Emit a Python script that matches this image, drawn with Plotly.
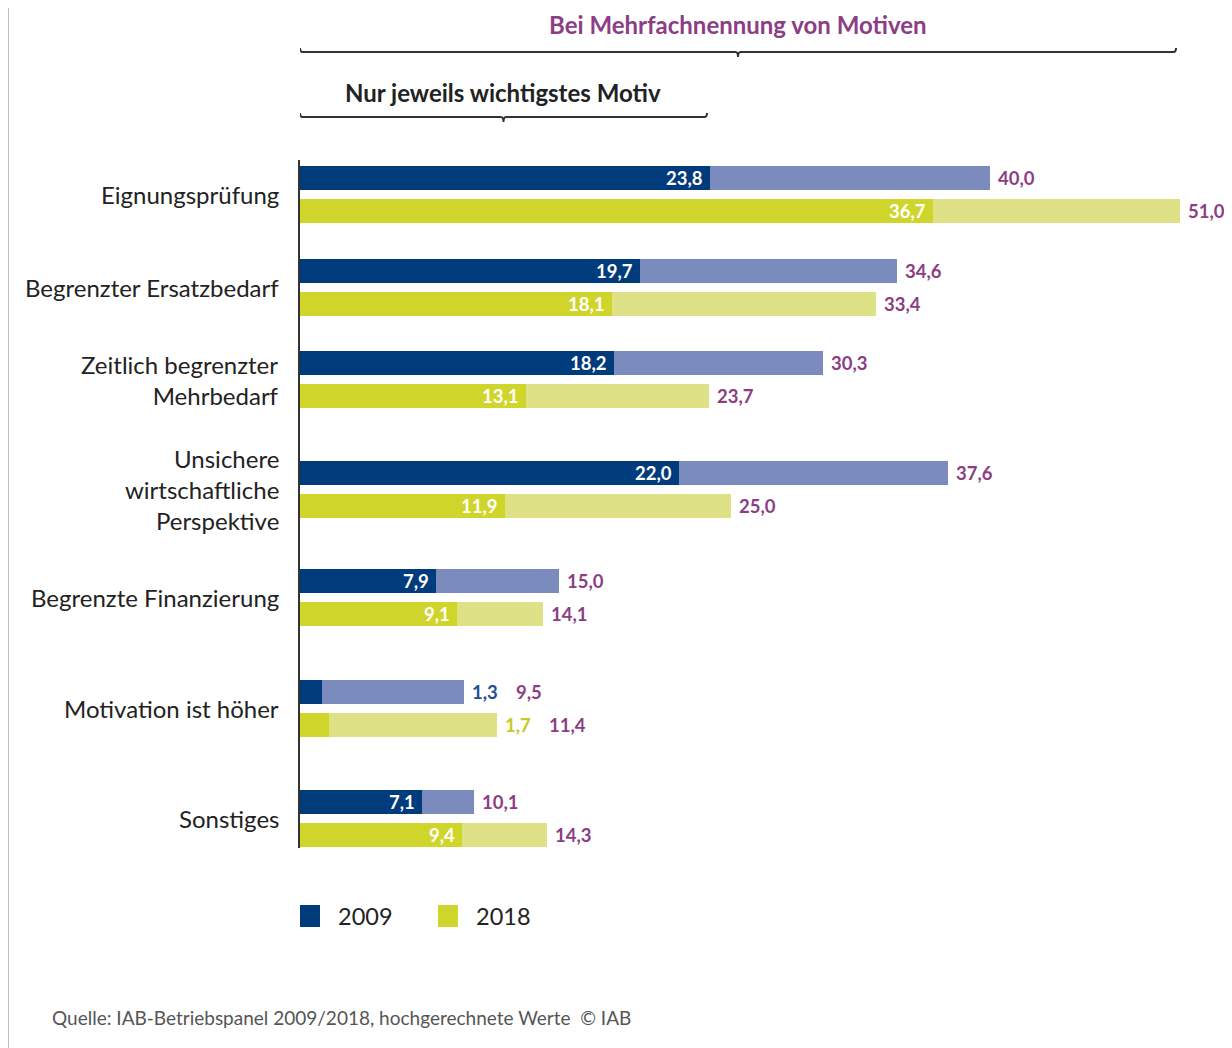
import plotly.graph_objects as go

# ---- data ----
categories = [
    "Eignungsprüfung",
    "Begrenzter Ersatzbedarf",
    "Zeitlich begrenzter<br>Mehrbedarf",
    "Unsichere<br>wirtschaftliche<br>Perspektive",
    "Begrenzte Finanzierung",
    "Motivation ist höher",
    "Sonstiges",
]
main_2009 = [23.8, 19.7, 18.2, 22.0, 7.9, 1.3, 7.1]      # nur wichtigstes Motiv
total_2009 = [40.0, 34.6, 30.3, 37.6, 15.0, 9.5, 10.1]   # Mehrfachnennung
main_2018 = [36.7, 18.1, 13.1, 11.9, 9.1, 1.7, 9.4]
total_2018 = [51.0, 33.4, 23.7, 25.0, 14.1, 11.4, 14.3]
years = ["2009", "2018"]

title_multi = "Bei Mehrfachnennung von Motiven"
title_main = "Nur jeweils wichtigstes Motiv"
source = "Quelle: IAB-Betriebspanel 2009/2018, hochgerechnete Werte  © IAB"

# ---- layout / style (page pixel coordinates) ----
W, H = 1232, 1048
BODY = 8                      # default page margin of the html body
PX_PER_UNIT = 17.25
X_MAX = 53
PLOT_L, PLOT_TOP, PLOT_BOT = 300, 160, 848
PLOT_R = PLOT_L + X_MAX * PX_PER_UNIT
M_L = PLOT_L - BODY
M_T = PLOT_TOP - BODY
M_R = W - (PLOT_R - BODY)
M_B = H - (PLOT_BOT - BODY)

# vertical positions of groups (pixel-like units on the y axis)
group_centers = [194.5, 287.5, 379.5, 489.5, 597.5, 708.5, 818.5]
bar_off = 16.5
bar_w = 24

FONT = "Lato"
C_DARK = {"2009": "#003b7b", "2018": "#d0d52b"}
C_LIGHT = {"2009": "#7c8bbd", "2018": "#dee186"}
C_SMALL = {"2009": "#1f4f96", "2018": "#c5cb24"}
C_PURPLE = "#8c3d84"
C_TEXT = "#222222"
VAL_SIZE = 18.5

def fmt(v):
    return f"{v:.1f}".replace(".", ",")

plot_h = PLOT_BOT - PLOT_TOP
plot_w = PLOT_R - PLOT_L
def ppaper(py):
    return (PLOT_BOT - py) / plot_h
def pxpaper(px):
    return (px - PLOT_L) / plot_w

fig = go.Figure()
annotations = []

series = {
    "2009": (main_2009, total_2009, -bar_off),
    "2018": (main_2018, total_2018, bar_off),
}
for yr, (mains, totals, off) in series.items():
    ys = [c + off for c in group_centers]
    fig.add_trace(go.Bar(
        y=ys, x=totals, base=0, orientation="h", width=bar_w,
        marker=dict(color=C_LIGHT[yr], line=dict(width=0)),
        showlegend=False, hoverinfo="x", name=yr + " Mehrfachnennung",
    ))
    fig.add_trace(go.Bar(
        y=ys, x=mains, base=0, orientation="h", width=bar_w,
        marker=dict(color=C_DARK[yr], line=dict(width=0)),
        showlegend=False, hoverinfo="x", name=yr,
    ))
    for y, m, t in zip(ys, mains, totals):
        shift_total = 6
        if m < 3:
            annotations.append(dict(
                x=t, y=y, xref="x", yref="y", text=f"<b>{fmt(m)}</b>",
                xanchor="left", yanchor="middle", xshift=6, showarrow=False,
                font=dict(family=FONT, size=VAL_SIZE, color=C_SMALL[yr]),
            ))
            shift_total = 50
        else:
            annotations.append(dict(
                x=m, y=y, xref="x", yref="y", text=f"<b>{fmt(m)}</b>",
                xanchor="right", yanchor="middle", xshift=-5, showarrow=False,
                font=dict(family=FONT, size=VAL_SIZE, color="white"),
            ))
        annotations.append(dict(
            x=t, y=y, xref="x", yref="y", text=f"<b>{fmt(t)}</b>",
            xanchor="left", yanchor="middle", xshift=shift_total, showarrow=False,
            font=dict(family=FONT, size=VAL_SIZE, color=C_PURPLE),
        ))

# category labels (right-aligned next to the axis)
for c, label in zip(group_centers, categories):
    annotations.append(dict(
        x=pxpaper(281), y=c, xref="paper", yref="y", text=label,
        xanchor="right", yanchor="middle", align="right", showarrow=False,
        font=dict(family=FONT, size=24, color=C_TEXT),
    ))

shapes = []
# brackets
def bracket(x1, py):
    y0 = ppaper(py)
    yh = ppaper(py - 4)
    yt = ppaper(py + 5)
    xm = x1 / 2
    e = 0.15
    path = (f"M 0,{yh} Q 0,{y0} {e},{y0} L {xm - e},{y0} "
            f"Q {xm},{y0} {xm},{yt} Q {xm},{y0} {xm + e},{y0} "
            f"L {x1 - e},{y0} Q {x1},{y0} {x1},{yh}")
    return dict(type="path", path=path, xref="x", yref="paper",
                line=dict(color="#333333", width=2))

span_multi = max(total_2018 + total_2009) - 0.2
span_main = max(main_2009) - 0.2
shapes.append(bracket(span_multi, 52))
shapes.append(bracket(span_main, 117))
annotations.append(dict(
    x=span_multi / 2, y=ppaper(24), xref="x", yref="paper",
    text=f"<b>{title_multi}</b>", showarrow=False, xanchor="center", yanchor="middle",
    font=dict(family=FONT, size=24, color=C_PURPLE),
))
annotations.append(dict(
    x=span_main / 2, y=ppaper(92), xref="x", yref="paper",
    text=f"<b>{title_main}</b>", showarrow=False, xanchor="center", yanchor="middle",
    font=dict(family=FONT, size=24, color=C_TEXT),
))

# frame lines
for px in (8, 1225):
    shapes.append(dict(type="line", xref="paper", yref="paper",
                       x0=pxpaper(px), x1=pxpaper(px), y0=ppaper(0), y1=ppaper(H),
                       line=dict(color="#b0b0b0", width=1.5)))

# legend
for i, yr in enumerate(years):
    x0 = 300 + i * 138
    shapes.append(dict(type="rect", xref="paper", yref="paper",
                       x0=pxpaper(x0), x1=pxpaper(x0 + 20),
                       y0=ppaper(927), y1=ppaper(905),
                       fillcolor=C_DARK[yr], line=dict(width=0)))
    annotations.append(dict(
        x=pxpaper(x0 + 36), y=ppaper(916), xref="paper", yref="paper",
        text=yr, showarrow=False, xanchor="left", yanchor="middle",
        font=dict(family=FONT, size=23.5, color=C_TEXT),
    ))

annotations.append(dict(
    x=pxpaper(50), y=ppaper(1017), xref="paper", yref="paper",
    text=source, showarrow=False, xanchor="left", yanchor="middle",
    font=dict(family=FONT, size=19, color="#555555"),
))

fig.update_layout(
    width=W, height=H,
    margin=dict(l=M_L, r=M_R, t=M_T, b=M_B, autoexpand=False),
    paper_bgcolor="white", plot_bgcolor="white",
    barmode="overlay", bargap=0,
    showlegend=False,
    shapes=shapes, annotations=annotations,
    xaxis=dict(range=[0, X_MAX], visible=False, fixedrange=True),
    yaxis=dict(
        range=[PLOT_BOT, PLOT_TOP], tickvals=group_centers,
        showticklabels=False,
        showline=True, linecolor="#333333", linewidth=2,
        showgrid=False, zeroline=False, ticks="", fixedrange=True,
    ),
    font=dict(family=FONT),
)

fig.write_html("out.html")
